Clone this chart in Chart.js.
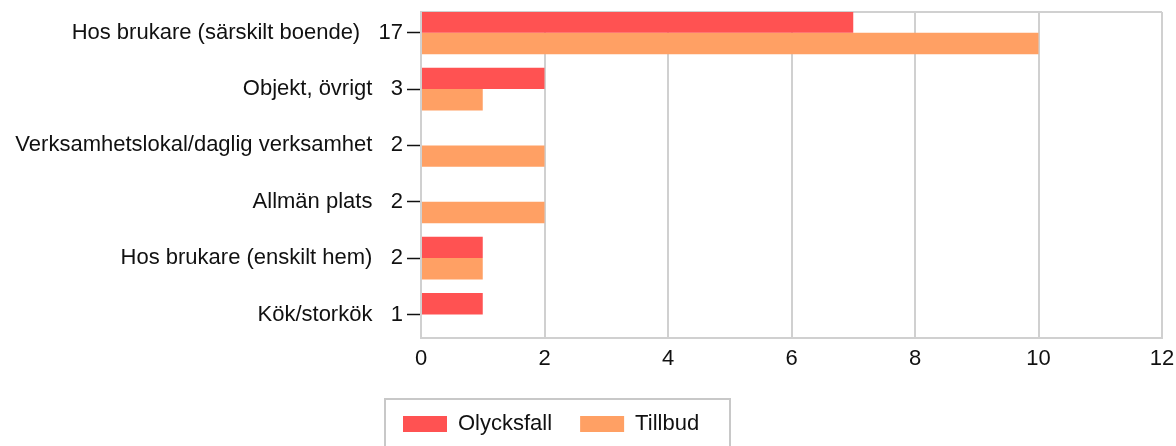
<!DOCTYPE html>
<html>
<head>
<meta charset="utf-8">
<script src="https://cdn.jsdelivr.net/npm/chart.js"></script>
<style>
  html, body { margin: 0; padding: 0; background: #fff; }
  #wrap { width: 1176px; height: 446px; }
</style>
</head>
<body>
<div id="wrap"><canvas id="myChart"></canvas></div>
<script>
let kategorier = ['Hos brukare (särskilt boende)', 'Objekt, övrigt', 'Verksamhetslokal/daglig verksamhet', 'Allmän plats', 'Hos brukare (enskilt hem)', 'Kök/storkök'];
let totalt = [17, 3, 2, 2, 2, 1];
let olycksfall = [7, 2, 0, 0, 1, 1];
let tillbud = [10, 1, 2, 2, 1, 0];

Chart.defaults.font.family = "'Liberation Sans', Arial, sans-serif";
Chart.defaults.font.size = 22;
Chart.defaults.color = '#111';

// frame round plot area + legend box
let ramPlugin = {
  id: 'ram',
  afterLayout: function(chart) {
    chart.legend.left = 375;
    chart.legend.top = 385;
  },
  beforeDatasetsDraw: function(chart) {
    let ctx = chart.ctx, a = chart.chartArea;
    ctx.save();
    ctx.strokeStyle = '#d0d0d0';
    ctx.lineWidth = 2;
    ctx.beginPath();
    ctx.moveTo(a.left, a.top);
    ctx.lineTo(a.right, a.top);
    ctx.stroke();
    ctx.restore();
  },
  afterDraw: function(chart) {
    let ctx = chart.ctx;
    ctx.save();
    ctx.strokeStyle = '#c8c8c8';
    ctx.lineWidth = 2;
    ctx.strokeRect(385, 399, 345, 60);
    ctx.restore();
  }
};

var ctx1 = document.getElementById('myChart').getContext('2d');

var chart1 = new Chart(ctx1, {
  type: 'bar',
  data: {
    datasets: [{
      label: 'Olycksfall',
      backgroundColor: 'rgb(255, 82, 82)',
      data: olycksfall.map(function(v, i) { return {x: v, y: i}; })
    }, {
      label: 'Tillbud',
      backgroundColor: 'rgb(255, 160, 100)',
      data: tillbud.map(function(v, i) { return {x: v, y: i}; })
    }]
  },
  plugins: [ramPlugin],
  options: {
    indexAxis: 'y',
    responsive: true,
    maintainAspectRatio: false,
    animation: false,
    layout: { padding: { top: 12, right: 0, left: 0, bottom: 0 } },
    datasets: {
      bar: { categoryPercentage: 0.76, barPercentage: 1.0 }
    },
    scales: {
      x: {
        min: 0,
        max: 12,
        ticks: { stepSize: 2, padding: 8 },
        grid: { color: '#d0d0d0', lineWidth: 2, drawTicks: false },
        border: { color: '#d0d0d0', width: 2 },
        afterFit: function(s) {
          s.height = 48;
          s.paddingLeft = 0;
          s.paddingRight = 14;
        }
      },
      y: {
        type: 'linear',
        reverse: true,
        offset: false,
        min: -0.368,
        max: 5.418,
        ticks: {
          stepSize: 1,
          includeBounds: false,
          padding: 4,
          callback: function(v) { return kategorier[v] + '   ' + totalt[v]; }
        },
        grid: { offset: false, drawOnChartArea: false, tickLength: 14, color: '#111', tickWidth: 1.5 },
        border: { color: '#d0d0d0', width: 2 },
        afterFit: function(s) {
          s.width = 421;
          s.paddingTop = 0;
          s.paddingBottom = 0;
        }
      }
    },
    plugins: {
      tooltip: { enabled: false },
      legend: {
        position: 'bottom',
        align: 'start',
        labels: { boxWidth: 44, boxHeight: 16, padding: 28 }
      }
    }
  }
});
</script>
</body>
</html>
